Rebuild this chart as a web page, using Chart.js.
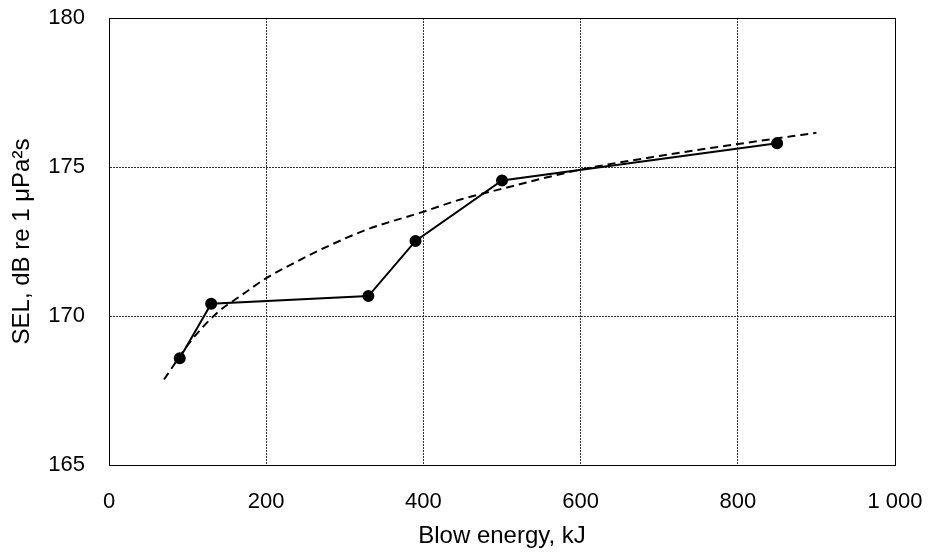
<!DOCTYPE html>
<html>
<head>
<meta charset="utf-8">
<script src="https://cdn.jsdelivr.net/npm/chart.js@4"></script>
<style>
html,body{margin:0;padding:0;background:#fff;}
#wrap{width:929px;height:552px;position:relative;}
</style>
</head>
<body>
<div id="wrap"><canvas id="c" width="929" height="552"></canvas></div>
<script>
// Measured data
const energyKJ = [90, 130, 330, 390, 500, 850];
const selDB = [168.58, 170.41, 170.67, 172.52, 174.55, 175.8];
// Trend curve
const trendX = [70, 105, 139, 166, 200, 226, 251, 276, 327, 400, 446, 497, 598, 700, 800, 900];
const trendY = [167.87, 169.19, 170.14, 170.65, 171.27, 171.65, 171.99, 172.31, 172.89, 173.5, 173.9, 174.25, 174.9, 175.37, 175.77, 176.15];
// Axis ticks
const xTicks = [0, 200, 400, 600, 800, 1000];
const xTickLabels = ['0', '200', '400', '600', '800', '1 000'];
const yTicks = [165, 170, 175, 180];

const FONT = "'Liberation Sans', Arial, sans-serif";

const framePlugin = {
  id: 'frame',
  afterDatasetsDraw(chart) {
    const {ctx, chartArea: a} = chart;
    ctx.save();
    ctx.strokeStyle = '#000';
    ctx.lineWidth = 1;
    ctx.setLineDash([]);
    ctx.strokeRect(Math.round(a.left) + 0.5, Math.round(a.top) + 0.5, Math.round(a.right - a.left), Math.round(a.bottom - a.top));
    ctx.restore();
  }
};

new Chart(document.getElementById('c'), {
  type: 'scatter',
  data: {
    datasets: [
      {
        label: 'Measured',
        data: energyKJ.map((x, i) => ({x: x, y: selDB[i]})),
        showLine: true,
        borderColor: '#000',
        backgroundColor: '#000',
        borderWidth: 2,
        pointRadius: 5,
        pointHoverRadius: 5,
        tension: 0,
        order: 1
      },
      {
        label: 'Trend',
        data: trendX.map((x, i) => ({x: x, y: trendY[i]})),
        showLine: true,
        borderColor: '#000',
        borderWidth: 2,
        borderDash: [8, 5],
        pointRadius: 0,
        cubicInterpolationMode: 'monotone',
        order: 2
      }
    ]
  },
  options: {
    responsive: false,
    animation: false,
    devicePixelRatio: 1,
    layout: {padding: {left: 0, top: 18, right: 34, bottom: 0}},
    plugins: {legend: {display: false}, tooltip: {enabled: false}},
    scales: {
      x: {
        type: 'linear',
        min: 0, max: 1000,
        afterBuildTicks(scale) { scale.ticks = xTicks.map(v => ({value: v})); },
        afterFit(scale) { scale.height = 87; },
        ticks: {
          color: '#000',
          font: {family: FONT, size: 22},
          padding: 0,
          maxRotation: 0,
          callback(v) { const i = xTicks.indexOf(v); return i >= 0 ? xTickLabels[i] : ''; }
        },
        grid: {color: '#333', lineWidth: 1, drawTicks: true, tickLength: 24, tickColor: 'rgba(0,0,0,0)'},
        border: {display: true, color: '#000', width: 1, dash: [2, 1]},
        title: {display: true, text: 'Blow energy, kJ', color: '#000', font: {family: FONT, size: 24}, padding: {top: 0, bottom: 1}}
      },
      y: {
        type: 'linear',
        min: 165, max: 180,
        afterBuildTicks(scale) { scale.ticks = yTicks.map(v => ({value: v})); },
        afterFit(scale) { scale.width = 109; },
        ticks: {
          color: '#000',
          font: {family: FONT, size: 22},
          padding: 0
        },
        grid: {color: '#333', lineWidth: 1, drawTicks: true, tickLength: 24, tickColor: 'rgba(0,0,0,0)'},
        border: {display: true, color: '#000', width: 1, dash: [2, 1]},
        title: {display: true, text: 'SEL, dB re 1 μPa²s', color: '#000', font: {family: FONT, size: 24}, padding: {top: 8, bottom: 0}}
      }
    }
  },
  plugins: [framePlugin]
});
</script>
</body>
</html>
